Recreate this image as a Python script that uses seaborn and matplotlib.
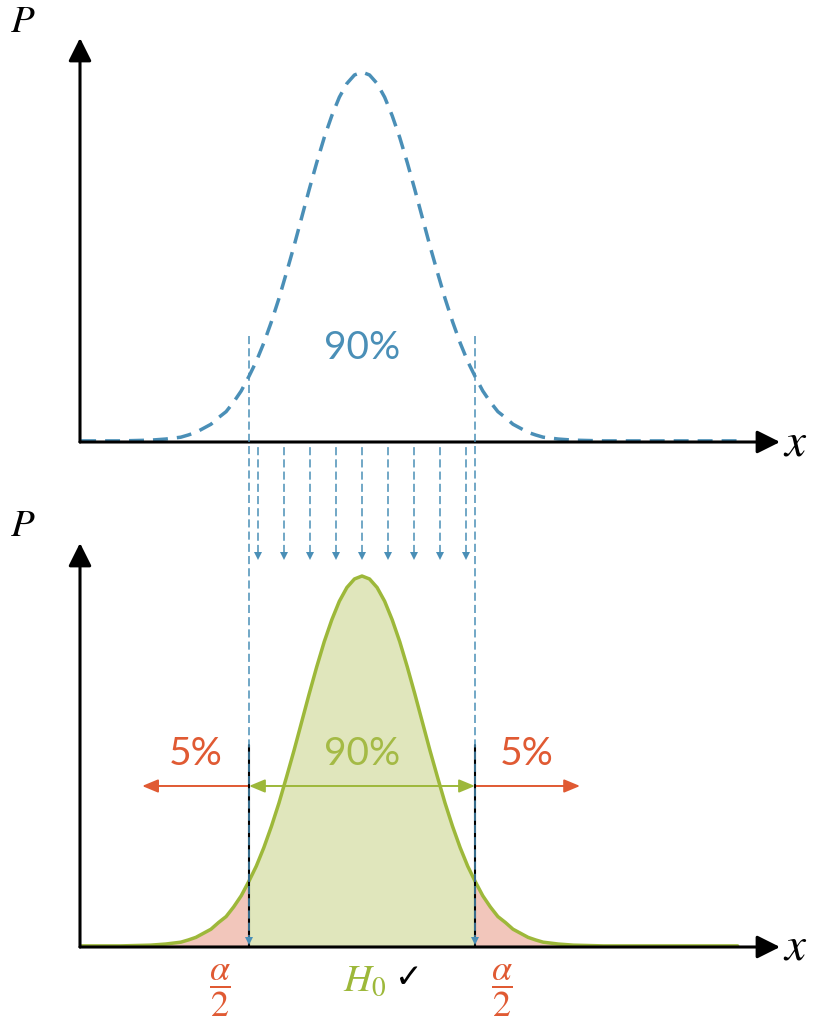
import numpy as np
import matplotlib
matplotlib.use('Agg')
import matplotlib.pyplot as plt
import seaborn as sns

# curve: x in sigma units, height relative to the peak
z = [-4.65, -4.0, -3.75, -3.5, -3.25, -3.0, -2.875, -2.75, -2.625, -2.5, -2.375, -2.25,
     -2.125, -2.0, -1.87, -1.75, -1.625, -1.5, -1.375, -1.25, -1.125, -1.0, -0.875,
     -0.75, -0.625, -0.5, -0.375, -0.25, -0.125, 0.0,
     0.125, 0.25, 0.375, 0.5, 0.625, 0.75, 0.875, 1.0, 1.125, 1.25, 1.375, 1.5, 1.625,
     1.75, 1.87, 2.0, 2.125, 2.25, 2.375, 2.5, 2.625, 2.75, 2.875, 3.0, 3.25, 3.5, 3.75,
     4.0, 5.0, 6.22]
h = [0.003, 0.003, 0.004, 0.005, 0.008, 0.013, 0.019, 0.026, 0.037, 0.048, 0.066, 0.082,
     0.108, 0.138, 0.178, 0.218, 0.268, 0.325, 0.388, 0.458, 0.530, 0.606, 0.682,
     0.755, 0.823, 0.882, 0.932, 0.969, 0.992, 1.0,
     0.992, 0.969, 0.932, 0.882, 0.823, 0.755, 0.682, 0.606, 0.530, 0.458, 0.388, 0.325,
     0.268, 0.218, 0.178, 0.138, 0.108, 0.082, 0.066, 0.048, 0.037, 0.026, 0.019, 0.013,
     0.008, 0.005, 0.004, 0.003, 0.003, 0.003]

lo, hi = -1.87, 1.87            # 90% interval limits
drop_z = [-1.72, -1.29, -0.86, -0.43, 0.0, 0.43, 0.86, 1.29, 1.72]
inner_pct = '90%'
tail_pct = '5%'

blue = '#4a8fb7'
green = '#9db83a'
green_txt = '#a4ba45'
green_fill = '#e0e6bc'
pink_fill = '#f2c6bb'
red = '#e05a33'

sns.set_theme(style='white')
plt.rcParams['font.family'] = ['Lato', 'DejaVu Sans']
plt.rcParams['mathtext.fontset'] = 'stix'
plt.rcParams['text.color'] = 'black'

W, H = 821, 1024
fig = plt.figure(figsize=(W / 100, H / 100), dpi=100)


def box(l, t, r, b):
    return [l / W, 1 - b / H, (r - l) / W, (b - t) / H]


ax_top = fig.add_axes(box(80, 38, 780, 442))
ax_bot = fig.add_axes(box(80, 543, 780, 947))

zz = np.array(z)
hh = np.array(h)

# top: dashed curve
sns.lineplot(x=z, y=h, ax=ax_top, color=blue, lw=2.5, sort=False, estimator=None)
ax_top.lines[-1].set_dashes([4.3, 2.6])
ax_top.lines[-1].set_dash_capstyle('butt')
ax_top.text(0, 0.254, inner_pct, color=blue, fontsize=28, ha='center', va='center')

# bottom: filled curve
ax_bot.fill_between(zz, 0, hh, where=(zz >= lo) & (zz <= hi), color=green_fill, lw=0)
ax_bot.fill_between(zz, 0, hh, where=zz <= lo, color=pink_fill, lw=0)
ax_bot.fill_between(zz, 0, hh, where=zz >= hi, color=pink_fill, lw=0)
sns.lineplot(x=z, y=h, ax=ax_bot, color=green, lw=2.5, sort=False, estimator=None)

# black limits
for v in (lo, hi):
    ax_bot.plot([v, v], [0, 0.544], color='black', lw=1.5, zorder=4)

# blue dashed guides running from top plot down to bottom axis
for v in (lo, hi):
    ax_bot.plot([v, v], [0.012, 1.65], color=blue, lw=1.1, dashes=[5.3, 2.7],
                clip_on=False, zorder=5)
    ax_bot.plot([v], [0.016], marker='v', ms=6, color=blue, mew=0,
                clip_on=False, zorder=5)
for v in drop_z:
    ax_bot.plot([v, v], [1.062, 1.348], color=blue, lw=1.1, dashes=[5.3, 2.7],
                clip_on=False, zorder=5)
    ax_bot.plot([v], [1.054], marker='v', ms=6, color=blue, mew=0,
                clip_on=False, zorder=5)

# horizontal arrows
ya = 0.434
ax_bot.annotate('', xy=(hi, ya), xytext=(lo, ya),
                arrowprops=dict(arrowstyle='<|-|>,head_length=0.6,head_width=0.25',
                                mutation_scale=16, lw=1.4, color=green,
                                shrinkA=0, shrinkB=0))
ax_bot.annotate('', xy=(-3.64, ya), xytext=(lo, ya),
                arrowprops=dict(arrowstyle='-|>,head_length=0.6,head_width=0.25',
                                mutation_scale=16, lw=1.4, color=red,
                                shrinkA=0, shrinkB=0))
ax_bot.annotate('', xy=(3.61, ya), xytext=(hi, ya),
                arrowprops=dict(arrowstyle='-|>,head_length=0.6,head_width=0.25',
                                mutation_scale=16, lw=1.4, color=red,
                                shrinkA=0, shrinkB=0))

ax_bot.text(-2.75, 0.52, tail_pct, color=red, fontsize=28, ha='center', va='center')
ax_bot.text(0, 0.52, inner_pct, color=green_txt, fontsize=28, ha='center', va='center')
ax_bot.text(2.73, 0.52, tail_pct, color=red, fontsize=28, ha='center', va='center')

ax_bot.text(-2.35, -0.118, r'$\dfrac{\alpha}{2}$', color=red, fontsize=26,
            ha='center', va='center')
ax_bot.text(2.32, -0.118, r'$\dfrac{\alpha}{2}$', color=red, fontsize=26,
            ha='center', va='center')
ax_bot.text(0.05, -0.089, r'$H_0$', color=green, fontsize=28, ha='center', va='center')
ax_bot.text(0.78, -0.082, '\u2713', color='black', fontsize=24, ha='center', va='center',
            family='DejaVu Sans')

for ax, top in ((ax_top, 1.092), (ax_bot, 1.089)):
    ax.set_xlim(-4.669, 6.921)
    ax.set_ylim(0, top)
    ax.axis('off')
    arrow = dict(arrowstyle='-|>,head_length=1.0,head_width=0.5', mutation_scale=14,
                 lw=2.2, color='black', shrinkA=0, shrinkB=0)
    ax.annotate('', xy=(1, 0), xytext=(0, 0), xycoords='axes fraction', arrowprops=arrow)
    ax.annotate('', xy=(0, 1), xytext=(0, 0), xycoords='axes fraction', arrowprops=arrow)

fig.text(23 / W, 1 - 21 / H, r'$P$', fontsize=28, ha='center', va='center')
fig.text(23 / W, 1 - 525 / H, r'$P$', fontsize=28, ha='center', va='center')
fig.text(795 / W, 1 - 443 / H, r'$x$', fontsize=34, ha='center', va='center')
fig.text(795 / W, 1 - 947 / H, r'$x$', fontsize=34, ha='center', va='center')

fig.savefig('out.png', dpi=100)
